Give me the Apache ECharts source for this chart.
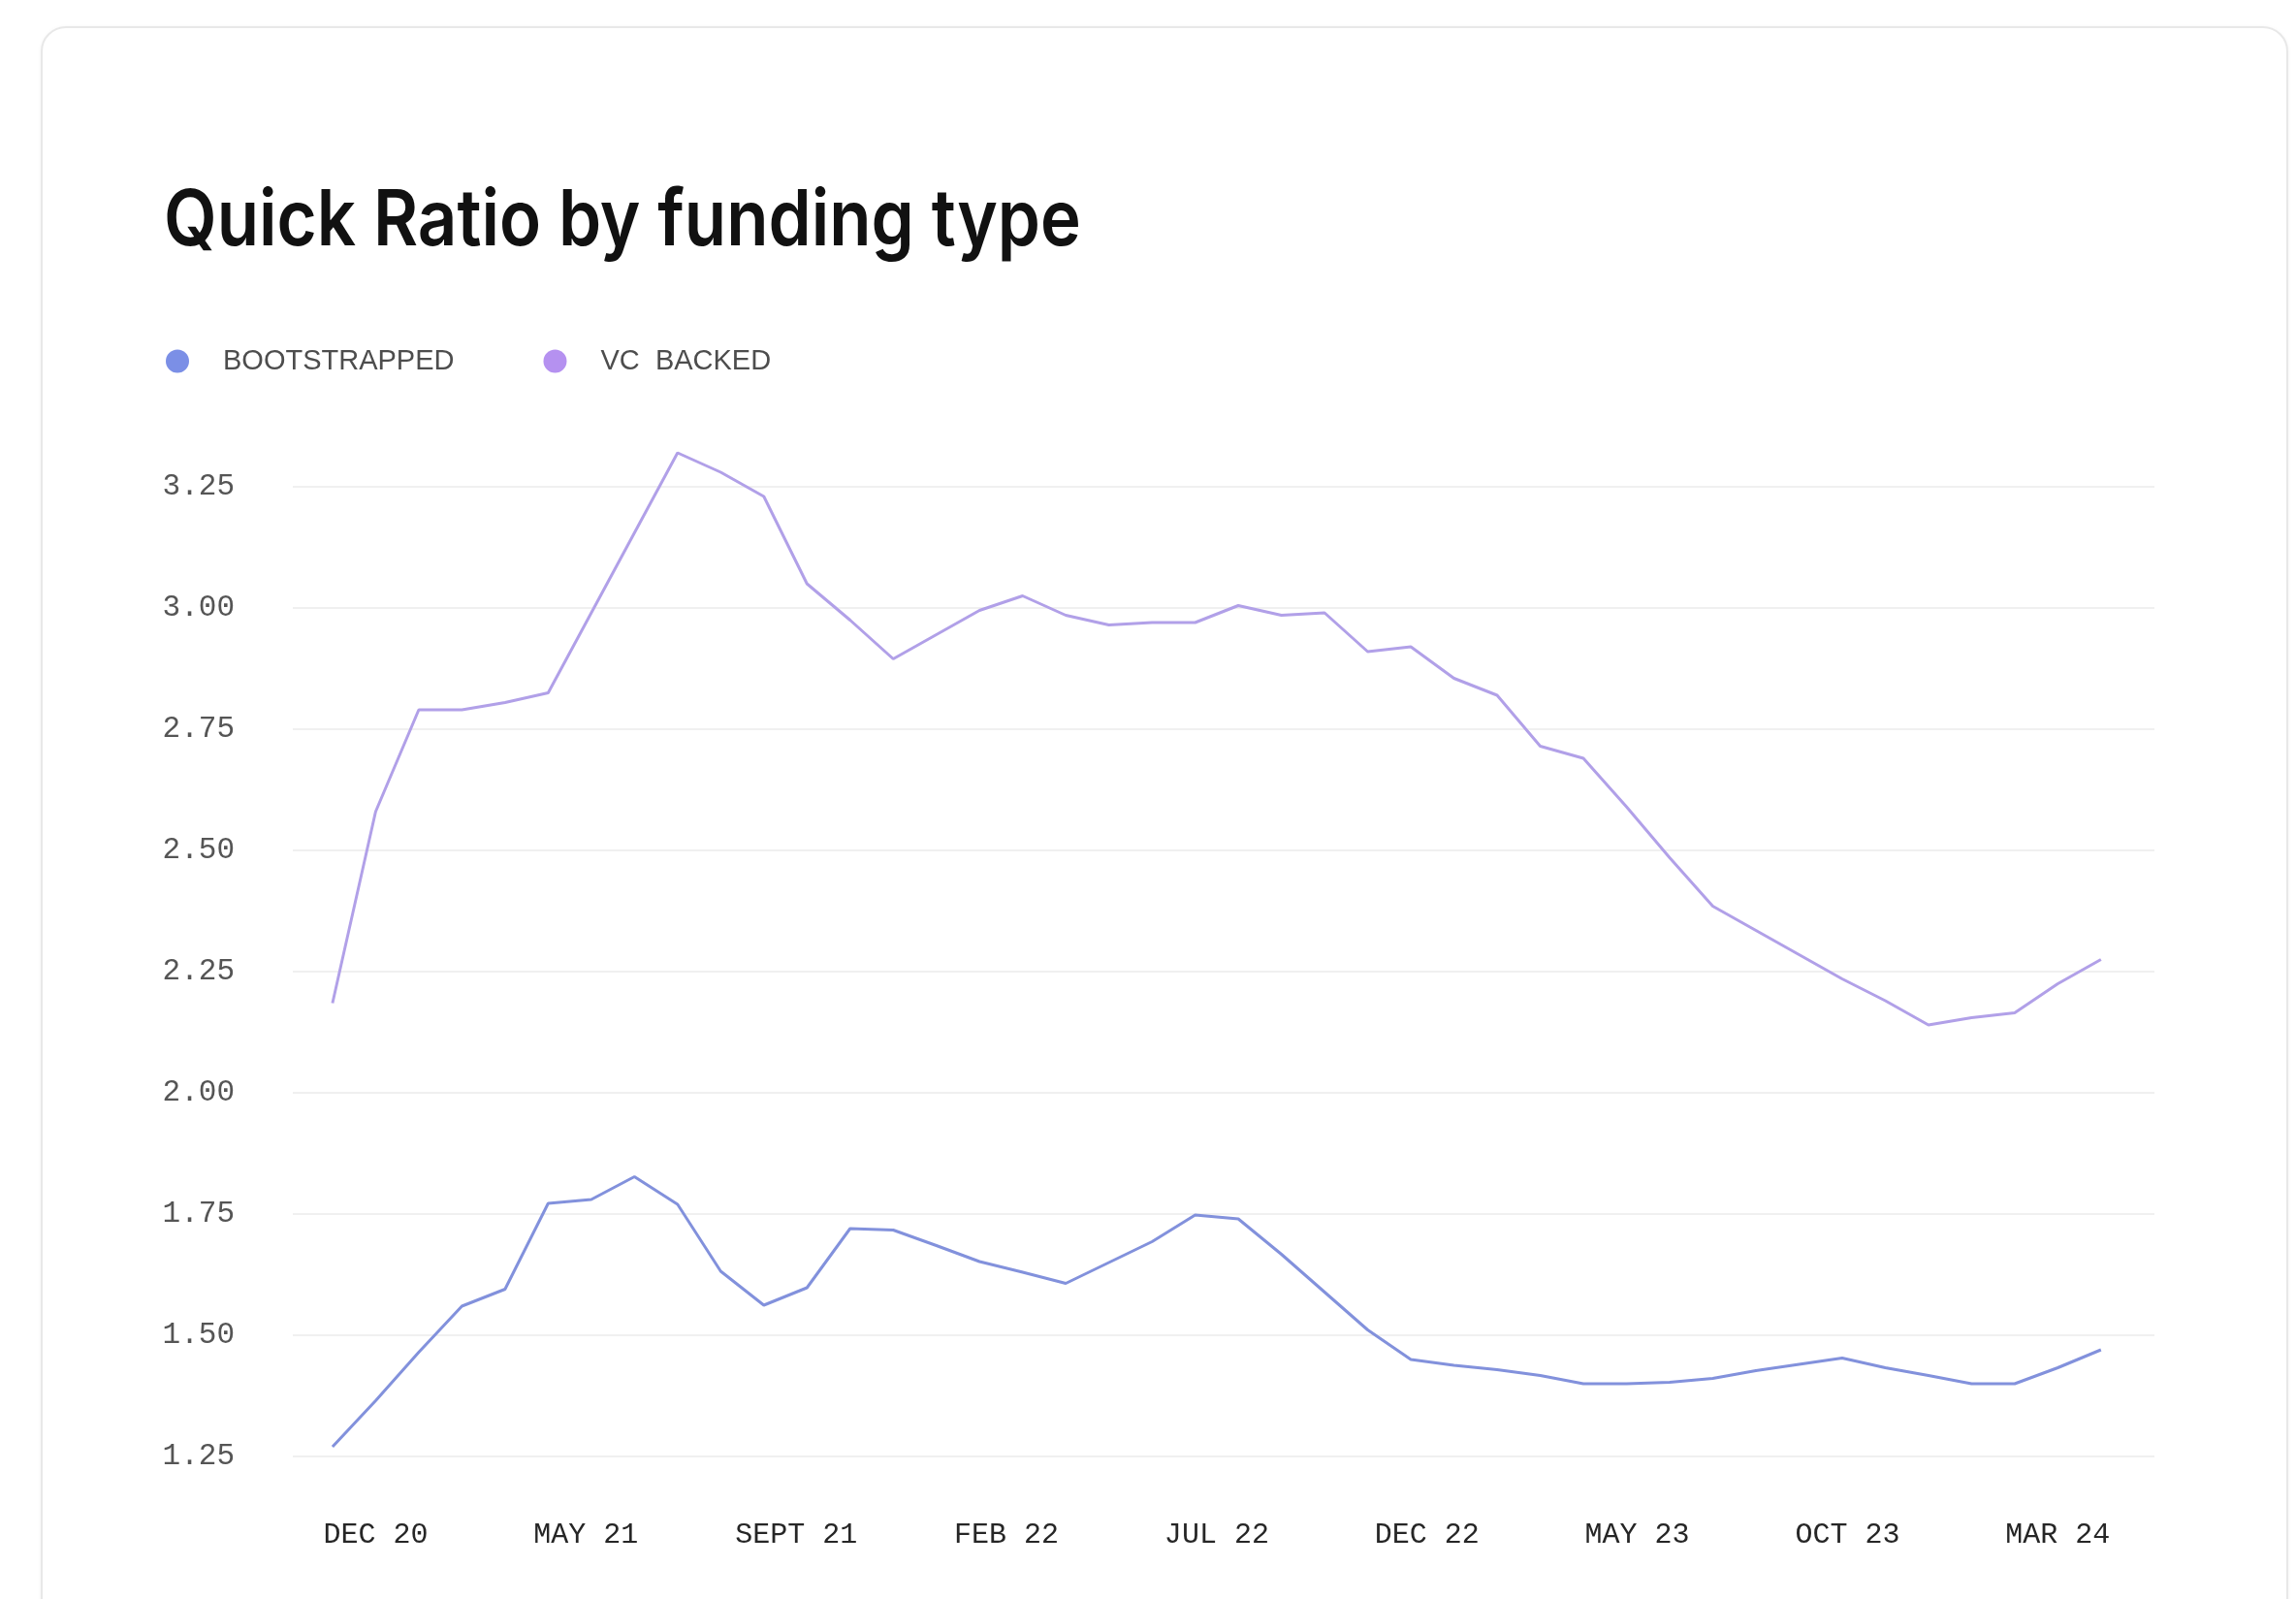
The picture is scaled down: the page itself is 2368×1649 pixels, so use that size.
<!DOCTYPE html>
<html>
<head>
<meta charset="utf-8">
<script src="https://cdn.jsdelivr.net/npm/echarts@6/dist/echarts.min.js"></script>
<style>
  html, body { margin: 0; padding: 0; background: #ffffff; width: 2368px; height: 1649px; overflow: hidden; }
  #card {
    position: absolute; left: 42px; top: 27px; width: 2318px; height: 1720px;
    border: 2px solid #e8e8e8; border-radius: 26px; box-sizing: border-box;
    box-shadow: 0 1px 4px rgba(0, 0, 0, 0.05);
  }
  #chart { position: absolute; left: 0; top: 0; width: 2368px; height: 1649px; }
</style>
</head>
<body>
<div id="card"></div>
<div id="chart"></div>
<script>
// Monthly periods, November 2020 through April 2024
const months = [
  'NOV 20', 'DEC 20', 'JAN 21', 'FEB 21', 'MAR 21', 'APR 21', 'MAY 21', 'JUN 21', 'JUL 21', 'AUG 21',
  'SEP 21', 'OCT 21', 'NOV 21', 'DEC 21', 'JAN 22', 'FEB 22', 'MAR 22', 'APR 22', 'MAY 22', 'JUN 22',
  'JUL 22', 'AUG 22', 'SEP 22', 'OCT 22', 'NOV 22', 'DEC 22', 'JAN 23', 'FEB 23', 'MAR 23', 'APR 23',
  'MAY 23', 'JUN 23', 'JUL 23', 'AUG 23', 'SEP 23', 'OCT 23', 'NOV 23', 'DEC 23', 'JAN 24', 'FEB 24',
  'MAR 24', 'APR 24'
];

// Labels shown along the time axis, evenly spread from the first to the last
const tickLabels = ['DEC 20', 'MAY 21', 'SEPT 21', 'FEB 22', 'JUL 22', 'DEC 22', 'MAY 23', 'OCT 23', 'MAR 24'];
const tickFirstMonth = 'DEC 20';
const tickLastMonth = 'MAR 24';

// Quick Ratio per month
const bootstrapped = [
  1.27, 1.365, 1.465, 1.56, 1.595, 1.772, 1.78, 1.827, 1.77, 1.632,
  1.562, 1.598, 1.72, 1.717, 1.685, 1.652, 1.63, 1.607, 1.65, 1.693,
  1.748, 1.74, 1.667, 1.589, 1.511, 1.45, 1.438, 1.429, 1.417, 1.40,
  1.40, 1.403, 1.411, 1.427, 1.44, 1.453, 1.433, 1.417, 1.40, 1.40,
  1.433, 1.47
];
const vcBacked = [
  2.185, 2.58, 2.79, 2.79, 2.805, 2.825, 2.99, 3.155, 3.32, 3.28,
  3.23, 3.05, 2.975, 2.895, 2.945, 2.995, 3.025, 2.985, 2.965, 2.97,
  2.97, 3.005, 2.985, 2.99, 2.91, 2.92, 2.855, 2.82, 2.715, 2.69,
  2.59, 2.485, 2.385, 2.335, 2.285, 2.235, 2.19, 2.14, 2.155, 2.165,
  2.225, 2.275
];

const chartTitle = 'Quick Ratio by funding type';
const seriesNames = ['BOOTSTRAPPED', 'VC  BACKED'];
const dotColors = ['#7b8fe6', '#b591f0'];
const lineColors = ['#8291dc', '#b1a0e8'];

// Positions of the time-axis labels, in month-index units
const tStart = months.indexOf(tickFirstMonth);
const tEnd = months.indexOf(tickLastMonth);
const tStep = (tEnd - tStart) / (tickLabels.length - 1);
const tickValues = tickLabels.map((_, k) => tStart + k * tStep);

const toPairs = arr => arr.map((v, i) => [i, v]);

const chart = echarts.init(document.getElementById('chart'), null, { renderer: 'canvas' });

chart.setOption({
  animation: false,
  backgroundColor: 'transparent',
  graphic: [
    {
      // Heading, set in a tightly condensed bold grotesque
      type: 'text',
      x: 169,
      y: 189,
      scaleX: 0.885,
      style: {
        text: chartTitle,
        font: '600 80px Inter',
        fill: '#111111',
        align: 'left',
        verticalAlign: 'top'
      }
    }
  ],
  legend: {
    left: 166,
    top: 353,
    icon: 'circle',
    itemWidth: 24,
    itemHeight: 24,
    itemGap: 92,
    data: seriesNames,
    textStyle: {
      fontFamily: 'Liberation Sans',
      fontSize: 29,
      color: '#4d4d4d',
      padding: [0, 0, 0, 30]
    }
  },
  grid: {
    left: 302,
    right: 146,
    top: 452,
    bottom: 147,
    containLabel: false
  },
  xAxis: {
    type: 'value',
    min: -0.92,
    max: months.length - 1 + 1.24,
    axisLine: { show: false },
    axisTick: { show: false },
    splitLine: { show: false },
    axisLabel: {
      customValues: tickValues,
      margin: 66,
      fontFamily: 'Liberation Mono',
      fontSize: 30,
      color: '#262626',
      formatter: function (value) {
        const k = Math.round((value - tStart) / tStep);
        return tickLabels[k] || '';
      }
    }
  },
  yAxis: {
    type: 'value',
    min: 1.25,
    max: 3.35,
    interval: 0.25,
    axisLine: { show: false },
    axisTick: { show: false },
    splitLine: {
      show: true,
      showMaxLine: false,
      lineStyle: { color: '#f0f0f0', width: 2 }
    },
    axisLabel: {
      showMaxLabel: false,
      margin: 60,
      fontFamily: 'Liberation Mono',
      fontSize: 31,
      color: '#555555',
      formatter: v => v.toFixed(2)
    }
  },
  series: [
    {
      name: seriesNames[0],
      type: 'line',
      data: toPairs(bootstrapped),
      showSymbol: false,
      smooth: false,
      itemStyle: { color: dotColors[0] },
      lineStyle: { color: lineColors[0], width: 3 }
    },
    {
      name: seriesNames[1],
      type: 'line',
      data: toPairs(vcBacked),
      showSymbol: false,
      smooth: false,
      itemStyle: { color: dotColors[1] },
      lineStyle: { color: lineColors[1], width: 3 }
    }
  ]
});
</script>
</body>
</html>
